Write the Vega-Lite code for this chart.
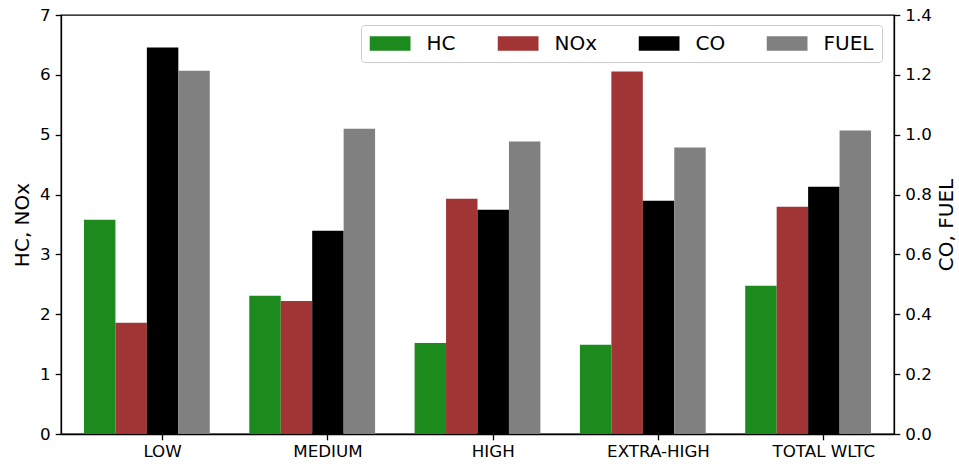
{
  "$schema": "https://vega.github.io/schema/vega-lite/v6.json",
  "width": 833,
  "height": 419,
  "autosize": "none",
  "padding": {"left": 61, "top": 15, "right": 65, "bottom": 30},
  "background": "white",
  "config": {
    "font": "DejaVu Sans",
    "view": {"stroke": "black", "strokeWidth": 1.3},
    "axis": {
      "grid": false,
      "domainColor": "black",
      "domainWidth": 1.3,
      "tickColor": "black",
      "tickWidth": 1.3,
      "labelColor": "black",
      "labelFont": "DejaVu Sans",
      "labelFontSize": 16.7,
      "titleFont": "DejaVu Sans",
      "titleFontSize": 20,
      "titleFontWeight": "normal",
      "titleColor": "black"
    }
  },
  "data": {
    "values": [
      {"phase": "LOW", "pollutant": "HC", "value": 3.58},
      {"phase": "LOW", "pollutant": "NOx", "value": 1.86},
      {"phase": "LOW", "pollutant": "CO", "value": 1.291},
      {"phase": "LOW", "pollutant": "FUEL", "value": 1.214},
      {"phase": "MEDIUM", "pollutant": "HC", "value": 2.31},
      {"phase": "MEDIUM", "pollutant": "NOx", "value": 2.22},
      {"phase": "MEDIUM", "pollutant": "CO", "value": 0.679},
      {"phase": "MEDIUM", "pollutant": "FUEL", "value": 1.02},
      {"phase": "HIGH", "pollutant": "HC", "value": 1.52},
      {"phase": "HIGH", "pollutant": "NOx", "value": 3.93},
      {"phase": "HIGH", "pollutant": "CO", "value": 0.749},
      {"phase": "HIGH", "pollutant": "FUEL", "value": 0.977},
      {"phase": "EXTRA-HIGH", "pollutant": "HC", "value": 1.49},
      {"phase": "EXTRA-HIGH", "pollutant": "NOx", "value": 6.055},
      {"phase": "EXTRA-HIGH", "pollutant": "CO", "value": 0.779},
      {"phase": "EXTRA-HIGH", "pollutant": "FUEL", "value": 0.957},
      {"phase": "TOTAL WLTC", "pollutant": "HC", "value": 2.475},
      {"phase": "TOTAL WLTC", "pollutant": "NOx", "value": 3.797},
      {"phase": "TOTAL WLTC", "pollutant": "CO", "value": 0.826},
      {"phase": "TOTAL WLTC", "pollutant": "FUEL", "value": 1.014}
    ]
  },
  "encoding": {
    "x": {
      "field": "phase",
      "type": "nominal",
      "sort": ["LOW", "MEDIUM", "HIGH", "EXTRA-HIGH", "TOTAL WLTC"],
      "scale": {"paddingInner": 0.239, "paddingOuter": 0.139},
      "axis": {"title": null, "labelAngle": 0, "bandPosition": 0.625, "labelOffset": 15.7, "tickSize": 5.8, "labelPadding": 4}
    },
    "xOffset": {
      "field": "pollutant",
      "type": "nominal",
      "scale": {"domain": ["HC", "NOx", "CO", "FUEL"], "paddingInner": 0, "paddingOuter": 0}
    },
    "color": {
      "field": "pollutant",
      "type": "nominal",
      "scale": {"domain": ["HC", "NOx", "CO", "FUEL"], "range": ["#1c8a1c", "#a13434", "#000000", "#808080"]},
      "legend": {
        "title": null,
        "orient": "none",
        "legendX": 300,
        "legendY": 10,
        "direction": "horizontal",
        "columns": 4,
        "symbolType": "M-1,-0.35H1V0.35H-1Z",
        "symbolSize": 1681,
        "symbolStrokeWidth": 0,
        "symbolOpacity": 1,
        "clipHeight": 20,
        "labelFont": "DejaVu Sans",
        "labelFontSize": 20,
        "labelColor": "black",
        "labelOffset": 16,
        "columnPadding": 41,
        "padding": 8.5,
        "strokeColor": "#cccccc",
        "cornerRadius": 3,
        "fillColor": "rgba(255,255,255,0.8)"
      }
    }
  },
  "layer": [
    {
      "transform": [{"filter": "datum.pollutant === 'HC' || datum.pollutant === 'NOx'"}],
      "mark": {"type": "bar"},
      "encoding": {
        "y": {
          "field": "value",
          "type": "quantitative",
          "scale": {"domain": [0, 7], "nice": false},
          "axis": {
            "title": "HC, NOx",
            "orient": "left",
            "values": [0, 0.5, 1, 1.5, 2, 2.5, 3, 3.5, 4, 4.5, 5, 5.5, 6, 6.5, 7],
            "format": "d",
            "labelExpr": "datum.value % 1 === 0 ? datum.label : ''",
            "tickSize": {"condition": {"test": "datum.value % 1 !== 0", "value": 3.3}, "value": 5.8},
            "labelPadding": 5,
            "titlePadding": 7
          }
        }
      }
    },
    {
      "transform": [{"filter": "datum.pollutant === 'CO' || datum.pollutant === 'FUEL'"}],
      "mark": {"type": "bar"},
      "encoding": {
        "y": {
          "field": "value",
          "type": "quantitative",
          "scale": {"domain": [0, 1.4], "nice": false},
          "axis": {
            "title": "CO, FUEL",
            "orient": "right",
            "values": [0, 0.2, 0.4, 0.6, 0.8, 1.0, 1.2, 1.4],
            "format": ".1f",
            "tickSize": 5.8,
            "labelPadding": 5,
            "titleAngle": 270,
            "titleBaseline": "top",
            "titlePadding": 5
          }
        }
      }
    }
  ],
  "resolve": {"scale": {"y": "independent"}}
}
